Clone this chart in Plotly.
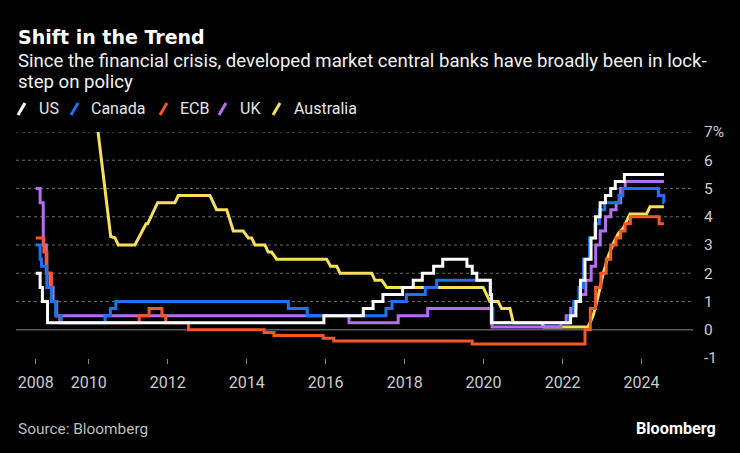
import plotly.graph_objects as go

# ---------------- data ----------------
US_DATES = ["2008-08-29", "2008-10-08", "2008-10-29", "2008-12-16", "2015-12-16", "2016-12-14",
            "2017-03-15", "2017-06-14", "2017-12-13", "2018-03-21", "2018-06-13", "2018-09-26",
            "2018-12-19", "2019-07-31", "2019-09-18", "2019-10-30", "2020-03-03", "2020-03-15",
            "2022-03-16", "2022-05-04", "2022-06-15", "2022-07-27", "2022-09-21", "2022-11-02",
            "2022-12-14", "2023-02-01", "2023-03-22", "2023-05-03", "2023-07-26", "2024-07-26"]
US_VALUES = [2.0, 1.5, 1.0, 0.25, 0.5, 0.75, 1.0, 1.25, 1.5, 1.75, 2.0, 2.25,
             2.5, 2.25, 2.0, 1.75, 1.25, 0.25, 0.5, 1.0, 1.75, 2.5, 3.25, 4.0,
             4.5, 4.75, 5.0, 5.25, 5.5, 5.5]

CANADA_DATES = ["2008-08-29", "2008-10-08", "2008-10-21", "2008-12-09", "2009-01-20", "2009-03-03",
                "2009-04-21", "2010-06-01", "2010-07-20", "2010-09-08", "2015-01-21", "2015-07-15",
                "2017-07-12", "2017-09-06", "2018-01-17", "2018-07-11", "2018-10-24", "2020-03-04",
                "2020-03-13", "2020-03-27", "2022-03-02", "2022-04-13", "2022-06-01", "2022-07-13",
                "2022-09-07", "2022-10-26", "2022-12-07", "2023-01-25", "2023-06-07", "2023-07-12",
                "2024-06-05", "2024-07-24", "2024-07-26"]
CANADA_VALUES = [3.0, 2.5, 2.25, 1.5, 1.0, 0.5, 0.25, 0.5, 0.75, 1.0, 0.75, 0.5,
                 0.75, 1.0, 1.25, 1.5, 1.75, 1.25, 0.75, 0.25, 0.5, 1.0, 1.5, 2.5,
                 3.25, 3.75, 4.25, 4.5, 4.75, 5.0, 4.75, 4.5, 4.5]

ECB_DATES = ["2008-08-29", "2008-11-12", "2008-12-10", "2009-01-21", "2009-03-11", "2009-04-08",
             "2011-04-13", "2011-07-13", "2011-11-09", "2011-12-14", "2012-07-11", "2014-06-11",
             "2014-09-10", "2015-12-09", "2016-03-16", "2019-09-18", "2022-07-27", "2022-09-14",
             "2022-11-02", "2022-12-21", "2023-02-08", "2023-03-22", "2023-05-10", "2023-06-21",
             "2023-08-02", "2023-09-20", "2024-06-12", "2024-07-26"]
ECB_VALUES = [3.25, 2.75, 2.0, 1.0, 0.5, 0.25, 0.5, 0.75, 0.5, 0.25, 0.0, -0.1,
              -0.2, -0.3, -0.4, -0.5, 0.0, 0.75, 1.5, 2.0, 2.5, 3.0, 3.25, 3.5,
              3.75, 4.0, 3.75, 3.75]

UK_DATES = ["2008-08-29", "2008-10-08", "2008-11-06", "2008-12-04", "2009-01-08", "2009-02-05",
            "2009-03-05", "2016-08-04", "2017-11-02", "2018-08-02", "2020-03-11", "2020-03-19",
            "2021-12-16", "2022-02-03", "2022-03-17", "2022-05-05", "2022-06-16", "2022-08-04",
            "2022-09-22", "2022-11-03", "2022-12-15", "2023-02-02", "2023-03-23", "2023-05-11",
            "2023-06-22", "2023-08-03", "2024-07-26"]
UK_VALUES = [5.0, 4.5, 3.0, 2.0, 1.5, 1.0, 0.5, 0.25, 0.5, 0.75, 0.25, 0.1,
             0.25, 0.5, 0.75, 1.0, 1.25, 1.75, 2.25, 3.0, 3.5, 4.0, 4.25, 4.5,
             5.0, 5.25, 5.25]

AUSTRALIA_DATES = ["2010-03-28", "2010-07-23", "2010-09-01", "2010-10-01", "2011-03-04", "2011-06-15",
                   "2011-06-30", "2011-09-30", "2012-03-08", "2012-04-08", "2013-01-26", "2013-03-28",
                   "2013-06-30", "2013-08-30", "2013-11-30", "2014-01-15", "2014-02-16", "2014-03-18",
                   "2014-06-19", "2014-07-19", "2014-08-19", "2014-10-05", "2016-01-10", "2016-02-16",
                   "2016-04-13", "2016-05-13", "2017-03-03", "2017-04-01", "2017-06-03", "2017-07-19",
                   "2019-12-28", "2020-02-28", "2020-05-15", "2020-06-16", "2020-09-01", "2020-10-02",
                   "2021-06-15", "2021-07-15", "2022-08-25", "2022-10-11", "2022-11-26", "2023-01-12",
                   "2023-02-27", "2023-04-14", "2023-05-31", "2023-07-16", "2023-09-16", "2024-02-17",
                   "2024-03-19", "2024-07-26"]
AUSTRALIA_VALUES = [7.0, 3.3, 3.25, 3.0, 3.0, 3.75,
                    3.75, 4.5, 4.5, 4.75, 4.75, 4.25,
                    4.25, 3.5, 3.5, 3.25, 3.25, 3.0,
                    3.0, 2.75, 2.75, 2.5, 2.5, 2.25,
                    2.25, 2.0, 2.0, 1.75, 1.75, 1.5,
                    1.5, 1.0, 1.0, 0.75, 0.75, 0.25,
                    0.25, 0.1, 0.1, 0.5, 1.2, 2.0,
                    2.6, 3.05, 3.4, 3.6, 4.1, 4.1,
                    4.35, 4.35]

X_TICK_DATES = ["2008-08-29", "2010-01-01", "2012-01-01", "2014-01-01", "2016-01-01",
                "2018-01-01", "2020-01-01", "2022-01-01", "2024-01-01"]
X_TICK_LABELS = ["2008", "2010", "2012", "2014", "2016", "2018", "2020", "2022", "2024"]
Y_TICKS = [-1, 0, 1, 2, 3, 4, 5, 6, 7]
Y_TICK_LABELS = ["-1", "0", "1", "2", "3", "4", "5", "6", "7%"]

TITLE = "Shift in the Trend"
SUBTITLE_LINES = ["Since the financial crisis, developed market central banks have broadly been in lock-",
                  "step on policy"]
SOURCE = "Source: Bloomberg"

# ---------------- styling ----------------
W, H = 740, 453
L, R, T, B = 16, 47, 132, 95
PW, PH = W - L - R, H - T - B

WHITE = "#ffffff"
BLUE = "#1f72f2"
RED = "#f4562b"
PURPLE = "#b36ff0"
YELLOW = "#f6e05a"
FONT = "Roboto"


def px(x):
    return (x - L) / PW


def py(y):
    return (H - B - y) / PH


fig = go.Figure()

# draw order: bottom -> top
series = [
    ("Australia", AUSTRALIA_DATES, AUSTRALIA_VALUES, YELLOW, "linear"),
    ("UK", UK_DATES, UK_VALUES, PURPLE, "hv"),
    ("ECB", ECB_DATES, ECB_VALUES, RED, "hv"),
    ("Canada", CANADA_DATES, CANADA_VALUES, BLUE, "hv"),
    ("US", US_DATES, US_VALUES, WHITE, "hv"),
]
for name, xs, ys, col, shape in series:
    fig.add_trace(go.Scatter(x=xs, y=ys, mode="lines", name=name,
                             line=dict(color=col, width=3, shape=shape),
                             showlegend=False, hoverinfo="skip"))

shapes = []
# dotted gridlines (no line at the bottom -1, solid line at zero)
for v in Y_TICKS:
    if v in (-1, 0):
        continue
    shapes.append(dict(type="line", xref="paper", yref="y", x0=0, x1=1, y0=v, y1=v,
                       line=dict(color="#6a6a6a", width=1, dash="dot"), layer="below"))
shapes.append(dict(type="line", xref="paper", yref="y", x0=0, x1=1, y0=0, y1=0,
                   line=dict(color="#5a5a5a", width=1.6), layer="below"))

annotations = []
# title & subtitle
annotations.append(dict(text="<b>" + TITLE + "</b>", x=px(16), y=py(37), xref="paper", yref="paper",
                        xanchor="left", yanchor="middle", showarrow=False,
                        font=dict(family="DejaVu Sans", size=19, color="#ffffff")))
for i, line in enumerate(SUBTITLE_LINES):
    annotations.append(dict(text=line, x=px(16), y=py(61 + 21 * i), xref="paper", yref="paper",
                            xanchor="left", yanchor="middle", showarrow=False, align="left",
                            font=dict(family=FONT, size=18.6, color="#f2f2f2")))

# custom legend with slash markers
legend_items = [("US", WHITE, 18, 37), ("Canada", BLUE, 71, 89), ("ECB", RED, 160, 178),
                ("UK", PURPLE, 219, 238), ("Australia", YELLOW, 273, 292)]
for label, col, sx, tx in legend_items:
    shapes.append(dict(type="line", xref="paper", yref="paper",
                       x0=px(sx), y0=py(115), x1=px(sx + 7), y1=py(103),
                       line=dict(color=col, width=3)))
    annotations.append(dict(text=label, x=px(tx), y=py(109), xref="paper", yref="paper",
                            xanchor="left", yanchor="middle", showarrow=False,
                            font=dict(family=FONT, size=16, color="#e6e6e6")))

# footer
annotations.append(dict(text=SOURCE, x=px(16), y=py(429), xref="paper", yref="paper",
                        xanchor="left", yanchor="middle", showarrow=False,
                        font=dict(family=FONT, size=15.4, color="#bdbdbd")))
annotations.append(dict(text="<b>Bloomberg</b>", x=px(718), y=py(428), xref="paper", yref="paper",
                        xanchor="right", yanchor="middle", showarrow=False,
                        font=dict(family=FONT, size=16.2, color="#ffffff")))

fig.update_layout(
    width=W, height=H,
    margin=dict(l=L, r=R, t=T, b=B, pad=0),
    paper_bgcolor="#000000", plot_bgcolor="#000000",
    showlegend=False,
    shapes=shapes, annotations=annotations,
    xaxis=dict(type="date", range=["2008-02-28", "2025-04-21"],
               tickmode="array", tickvals=X_TICK_DATES, ticktext=X_TICK_LABELS,
               ticks="outside", ticklen=5, tickcolor="#8a8a8a", tickwidth=1,
               showgrid=False, zeroline=False, showline=False,
               tickfont=dict(family=FONT, size=16, color="#cccccc"),
               ticklabelstandoff=5, fixedrange=True),
    yaxis=dict(range=[-1, 7], side="right", tickmode="array",
               tickvals=Y_TICKS, ticktext=Y_TICK_LABELS,
               showgrid=False, zeroline=False, showline=False, ticks="",
               tickfont=dict(family=FONT, size=15.5, color="#cccccc"),
               ticklabelstandoff=10, fixedrange=True),
)

fig.write_html("out.html", config={"displayModeBar": False})
